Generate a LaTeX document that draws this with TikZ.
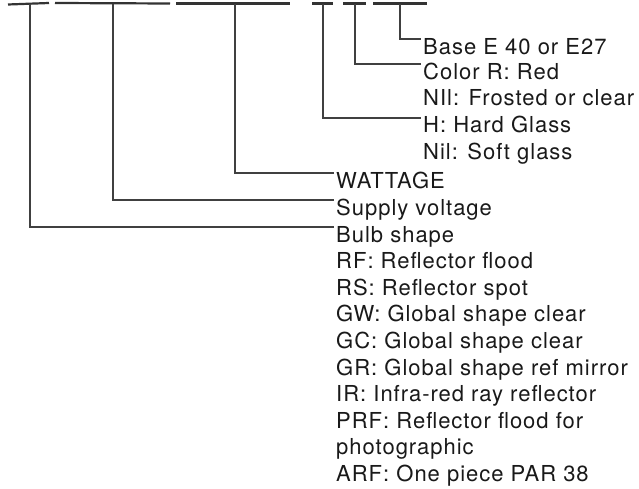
\documentclass[tikz,border=0pt]{standalone}
\usepackage{fontspec}
\setmainfont{TeX Gyre Heros}[LetterSpace=4.5]
\usetikzlibrary{positioning}

\begin{document}
\begin{tikzpicture}[
    x=1pt, y=-1pt,
    lbl/.style={anchor=base west, inner sep=0pt, text=black!90,
      font=\fontsize{22}{26}\selectfont},
    bar/.style={draw=black!80, line width=2.2pt},
    lead/.style={draw=black!75, line width=1.2pt}
  ]
    \useasboundingbox (0,0) rectangle (639,489);

    % code bars along the top
    \draw[bar] (8,4.5) -- (49,3);
    \draw[bar] (55,3) -- (170,3.5);
    \draw[bar] (176,3.5) -- (290,3.5);
    \draw[bar] (312,3.5) -- (333,3.5);
    \draw[bar] (343,3.5) -- (366,3.5);
    \draw[bar] (373,3.5) -- (427,3.5);
    \coordinate (shapebar) at (30,4);
    \coordinate (voltbar) at (113,4);
    \coordinate (wattbar) at (235,4);
    \coordinate (glassbar) at (323,4);
    \coordinate (colorbar) at (355,4);
    \coordinate (basebar) at (400,4);

    % upper labels
    \node[lbl] (base) at (423,55) {Base E 40 or E27};
    \node[lbl] (color) at (423,80) {Color R: Red};
    \node[lbl] (nocolor) at (423,106) {NIl: Frosted or clear};
    \node[lbl] (glass) at (423,133) {H: Hard Glass};
    \node[lbl] (softglass) at (423,159.5) {Nil: Soft glass};

    % lower labels
    \node[lbl] (watt) at (336,188) {WATTAGE};
    \node[lbl] (volt) at (336,215) {Supply voltage};
    \node[lbl] (shape) at (336,242) {Bulb shape};
    \foreach \txt [count=\i] in {RF: Reflector flood, RS: Reflector spot,
        GW: Global shape clear, GC: Global shape clear,
        GR: Global shape ref mirror, IR: Infra-red ray reflector,
        PRF: Reflector flood for, photographic, ARF: One piece PAR 38}
      \node[lbl] (shape\i) at (336,242+26.6*\i) {\txt};

    \draw[lead] (basebar) |- ([xshift=-2pt,yshift=16pt]base.base west);
    \draw[lead] (colorbar) |- ([xshift=-2pt,yshift=16pt]color.base west);
    \draw[lead] (glassbar) |- ([xshift=-2pt,yshift=15pt]glass.base west);
    \draw[lead] (wattbar) |- ([xshift=-2pt,yshift=15pt]watt.base west);
    \draw[lead] (voltbar) |- ([xshift=-2pt,yshift=15pt]volt.base west);
    \draw[lead] (shapebar) |- ([xshift=-2pt,yshift=15pt]shape.base west);
\end{tikzpicture}
\end{document}
